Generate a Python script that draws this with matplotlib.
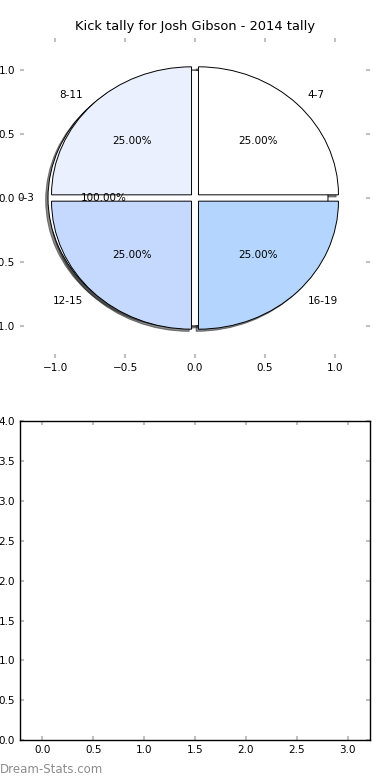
import matplotlib
matplotlib.use("Agg")
import matplotlib.pyplot as plt

# data
base_labels = ["0-3"]
base_values = [1]

labels = ["4-7", "8-11", "12-15", "16-19"]
values = [1, 1, 1, 1]
colors = ["#FFFFFF", "#EAF0FD", "#C5D8FE", "#B4D5FE"]

title = "Kick tally for Josh Gibson - 2014 tally"

plt.rcParams["font.family"] = "DejaVu Sans"
plt.rcParams["font.size"] = 7.5
plt.rcParams["xtick.direction"] = "in"
plt.rcParams["ytick.direction"] = "in"
plt.rcParams["xtick.top"] = True
plt.rcParams["ytick.right"] = True
plt.rcParams["xtick.color"] = "#c0c0c0"
plt.rcParams["ytick.color"] = "#c0c0c0"
plt.rcParams["xtick.labelcolor"] = "black"
plt.rcParams["ytick.labelcolor"] = "black"
plt.rcParams["xtick.major.size"] = 3
plt.rcParams["ytick.major.size"] = 3
plt.rcParams["xtick.major.width"] = 1.5
plt.rcParams["ytick.major.width"] = 1.5

fig = plt.figure(figsize=(3.9, 7.8), dpi=100)

ax1 = fig.add_axes([0.0513, 0.541, 0.8974, 0.4103])
ax2 = fig.add_axes([0.0513, 0.051, 0.8974, 0.409])

wedge_style = {"edgecolor": "black", "linewidth": 0.7}
shadow_style = {"ox": -0.012, "oy": -0.012, "shade": 0.9}

ax1.pie(
    base_values,
    labels=base_labels,
    autopct="%.2f%%",
    colors=["#FFFFFF"],
    explode=[0.05],
    shadow=shadow_style,
    wedgeprops=wedge_style,
)

ax1.pie(
    values,
    labels=labels,
    autopct="%.2f%%",
    colors=colors,
    explode=[0.035] * len(values),
    shadow=shadow_style,
    wedgeprops=wedge_style,
)

ax1.set_aspect("auto")
ax1.set_frame_on(False)
ax1.set_xlim(-1.25, 1.25)
ax1.set_ylim(-1.25, 1.25)
ax1.set_xticks([-1.0, -0.5, 0.0, 0.5, 1.0])
ax1.set_yticks([-1.0, -0.5, 0.0, 0.5, 1.0])
ax1.set_title(title, fontsize=9.4)

ax2.set_xlim(-0.22, 3.22)
ax2.set_ylim(0, 4)
ax2.set_xticks([0.0, 0.5, 1.0, 1.5, 2.0, 2.5, 3.0])
ax2.set_yticks([0.0, 0.5, 1.0, 1.5, 2.0, 2.5, 3.0, 3.5, 4.0])
for spine in ax2.spines.values():
    spine.set_linewidth(1.0)

fig.text(
    0.0, 0.005,
    "Dream-Stats.com",
    color="#8c8c8c",
    fontsize=8.5,
    ha="left",
    va="bottom"
)

fig.savefig("out.png", dpi=100)
